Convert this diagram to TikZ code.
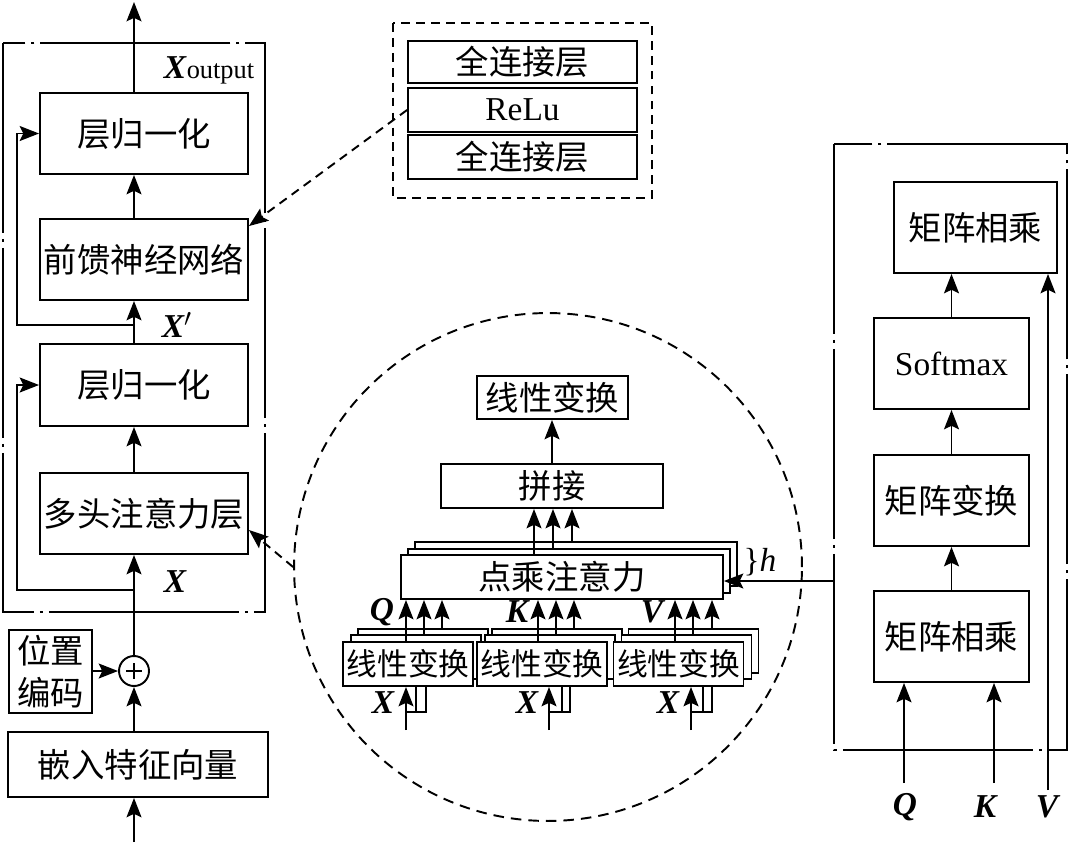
\documentclass[tikz,border=0pt]{standalone}
\usepackage{fontspec}
\setmainfont{Liberation Serif}
\newfontfamily\cjk{Noto Sans CJK SC}
\usetikzlibrary{arrows.meta,calc}

\begin{document}
\begin{tikzpicture}[x=0.02cm,y=-0.02cm,line width=1.1pt,
    box/.style={draw,fill=white,inner sep=0pt,font=\cjk\fontsize{19}{24}\selectfont},
    latinbox/.style={box,font=\fontsize{19}{22}\selectfont},
    linbox/.style={box,font=\cjk\fontsize{17.5}{20}\selectfont,minimum width=2.6cm,minimum height=0.88cm},
    arr/.style={-{Stealth[length=11pt,width=8.5pt,inset=2pt]}},
    dasharr/.style={arr,dash pattern=on 5pt off 3.5pt},
    frame/.style={dash pattern=on 3.8cm off 1.2mm on 0.6mm off 1.2mm},
    lbl/.style={font=\fontsize{19}{22}\selectfont\bfseries\itshape,inner sep=0pt}]
    \useasboundingbox (0,0) rectangle (1070,842);

    % Encoder block
    \draw[frame] (3,43) rectangle (265,612);
    \node[box,minimum width=4.16cm,minimum height=1.62cm] (ln1) at (144,133.5) {层归一化};
    \node[box,minimum width=4.16cm,minimum height=1.62cm] (ffn) at (144,259.5) {前馈神经网络};
    \node[box,minimum width=4.16cm,minimum height=1.64cm] (ln2) at (144,385) {层归一化};
    \node[box,minimum width=4.16cm,minimum height=1.62cm] (mha) at (144,513.5) {多头注意力层};
    \node[box,minimum width=1.66cm,minimum height=1.66cm,align=center] (pos) at (50.5,671.5) {位置\\编码};
    \node[circle,draw,minimum size=0.6cm,inner sep=0pt] (add) at (134,671) {};
    \draw (add.center) ++(-8,0) -- ++(16,0) (add.center) ++(0,-8) -- ++(0,16);
    \node[box,minimum width=5.2cm,minimum height=1.3cm] (emb) at (138,764.5) {嵌入特征向量};

    \coordinate (inemb) at (134,842);
    \coordinate (out) at (134,2);
    \coordinate (res1) at (134,590);
    \coordinate (res2) at (134,325);
    \draw[arr] (inemb) -- (emb.south -| add);
    \draw[arr] (emb.north -| add) -- (add.south);
    \draw[arr] (pos.east |- add) -- (add.west);
    \draw[arr] (add.north) -- (mha.south -| add);
    \draw[arr] (mha.north -| add) -- (ln2.south -| add);
    \draw[arr] (ln2.north -| add) -- (ffn.south -| add);
    \draw[arr] (ffn.north -| add) -- (ln1.south -| add);
    \draw[arr] (ln1.north -| add) -- (out);
    \draw[arr] (res1) -- ++(-117,0) |- (ln2.west);
    \draw[arr] (res2) -- ++(-117,0) |- (ln1.west);

    \node[inner sep=0pt] (xout) at (209,70) {\fontsize{19}{22}\selectfont\textbf{\textit{X}}\fontsize{15}{18}\selectfont output};
    \node[lbl] (xprime) at (177,325) {X$'$};
    \node[lbl] (xin) at (175,582) {X};

    % Feed-forward detail
    \draw[dash pattern=on 5pt off 3.5pt] (393,23) rectangle (652,198);
    \node[box,minimum width=4.58cm,minimum height=0.84cm] (fc1) at (522.5,62) {全连接层};
    \node[latinbox,minimum width=4.58cm,minimum height=0.88cm] (relu) at (522.5,110) {ReLu};
    \node[box,minimum width=4.58cm,minimum height=0.88cm] (fc2) at (522.5,157) {全连接层};
    \draw[dasharr] (relu.west) -- ([yshift=-0.16cm]ffn.north east);

    % Multi-head attention detail
    \node[draw,circle,minimum size=10.16cm,inner sep=0pt,dash pattern=on 6pt off 4pt] (zoomc) at (548,567) {};
    \draw[dasharr] (zoomc.west) -- ([yshift=-0.33cm]mha.east);

    \node[box,minimum width=3.02cm,minimum height=0.86cm] (lin0) at (552.5,397.5) {线性变换};
    \node[box,minimum width=4.44cm,minimum height=0.88cm] (cat) at (552,486) {拼接};
    \node[box,minimum width=6.44cm,minimum height=0.88cm] (dot3) at (576,564) {};
    \node[box,minimum width=6.44cm,minimum height=0.88cm] (dot2) at (569,571) {};
    \node[box,minimum width=6.44cm,minimum height=0.88cm] (dot) at (562,577) {点乘注意力};
    \draw[arr] (cat.north) -- (cat.north |- lin0.south);
    \foreach \x/\n in {534/dot,553/dot2,572/dot3}
        \draw[arr] (\x,0 |- \n.north) -- (\x,0 |- cat.south);

    \foreach \n/\x in {q/408,k/542,v/678.5} {
        \node[linbox] (l\n3) at (\x+15,651) {};
        \node[linbox] (l\n2) at (\x+8,657) {};
        \node[linbox] (l\n) at (\x,664) {线性变换};
    }
    \foreach \x/\n in {406/lq,424/lq2,442/lq3,538/lk,556/lk2,574/lk3,675/lv,693/lv2,712/lv3}
        \draw[arr] (\x,0 |- \n.north) -- (\x,0 |- dot.south);
    \foreach \n/\x/\a/\b in {q/406/416/426,k/549/562/570,v/691/703/712} {
        \coordinate (in\n) at (\x,730);
        \draw[arr] (in\n) -- (in\n |- l\n.south);
        \draw (\x,712) -- (\b,712) -- (\b,0 |- l\n.south) (\a,712) -- (\a,0 |- l\n.south);
    }
    \node[lbl] (lblxq) at (383,703) {X};
    \node[lbl] (lblxk) at (527,703) {X};
    \node[lbl] (lblxv) at (668,703) {X};
    \node[lbl] (lblq) at (382,612) {Q};
    \node[lbl] (lblk) at (517,612) {K};
    \node[lbl] (lblv) at (652,612) {V};
    \node[inner sep=0pt,font=\fontsize{19}{22}\selectfont] (hlab) at (760,562) {\}\textit{h}};

    % Scaled dot-product attention
    \draw[frame] (834,144) rectangle (1067,750);
    \node[box,minimum width=3.26cm,minimum height=1.82cm] (mm2) at (975.5,227.5) {矩阵相乘};
    \node[latinbox,minimum width=3.1cm,minimum height=1.82cm] (sm) at (951.5,363.5) {Softmax};
    \node[box,minimum width=3.1cm,minimum height=1.82cm] (mt) at (951.5,500.5) {矩阵变换};
    \node[box,minimum width=3.1cm,minimum height=1.82cm] (mm1) at (951.5,636.5) {矩阵相乘};
    \draw[arr] (mm1.north) -- (mt.south);
    \draw[arr] (mt.north) -- (sm.south);
    \draw[arr] (sm.north) -- (sm.north |- mm2.south);

    \coordinate (inQ) at (904,783);
    \coordinate (inK) at (994,783);
    \coordinate (inV) at (1048,790);
    \draw[arr] (inQ) -- (inQ |- mm1.south);
    \draw[arr] (inK) -- (inK |- mm1.south);
    \draw[arr] (inV) -- (inV |- mm2.south);
    \node[lbl] (lblQ) at (905,807) {Q};
    \node[lbl] (lblK) at (985,807) {K};
    \node[lbl] (lblV) at (1047,807) {V};

    \coordinate (hin) at (834,581);
    \draw[arr] (hin) -- (hin -| dot.east);
\end{tikzpicture}
\end{document}
